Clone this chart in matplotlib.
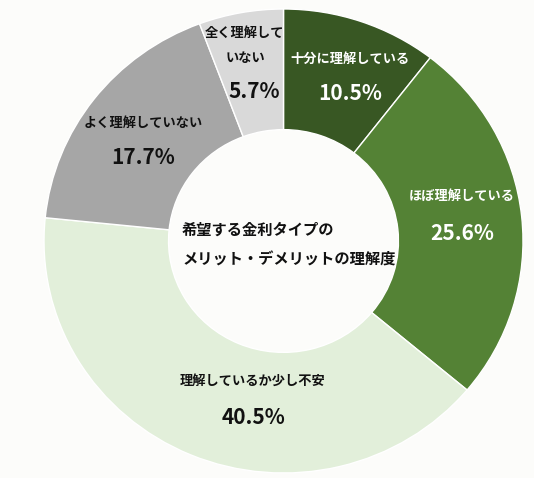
import matplotlib
matplotlib.use("Agg")
import matplotlib.pyplot as plt

plt.rcParams['font.family'] = ['Noto Sans CJK JP', 'DejaVu Sans']

categories = ["十分に理解している", "ほぼ理解している", "理解しているか少し不安",
              "よく理解していない", "全く理解して\nいない"]
values = [10.5, 25.6, 40.5, 17.7, 5.7]
center_title = ["希望する金利タイプの", "メリット・デメリットの理解度"]

colors = ["#385723", "#548235", "#E2EFDA", "#A6A6A6", "#D9D9D9"]
text_colors = ["white", "white", "#111111", "#111111", "#111111"]
# label positions in pixels (x, y of category line(s) center, y of percent)
label_pos = [(350, 59, 93), (462, 196, 233), (253, 381, 417),
             (143, 123, 157), (244, 46, 92)]

W, H = 534, 478
bg = "#FCFCFA"
fig = plt.figure(figsize=(W / 100, H / 100), dpi=100, facecolor=bg)

cx, cy, rx, ry = 283.5, 241, 239.5, 232
ax = fig.add_axes([(cx - rx) / W, 1 - (cy + ry) / H, 2 * rx / W, 2 * ry / H])
ax.pie(values, colors=colors, startangle=90, counterclock=False, radius=1,
       wedgeprops=dict(width=0.52, edgecolor="white", linewidth=1.0))
ax.set_aspect('auto')
ax.set_xlim(-1, 1)
ax.set_ylim(-1, 1)
ax.set_facecolor(bg)
ax.axis('off')

for cat, val, tc, (x, y, yp) in zip(categories, values, text_colors, label_pos):
    lines = cat.split("\n")
    if len(lines) == 1:
        fig.text(x / W, 1 - y / H, cat, ha='center', va='center',
                 fontsize=9.5, fontweight='bold', color=tc)
    else:
        fig.text(x / W, 1 - 33 / H, lines[0], ha='center', va='center',
                 fontsize=9.5, fontweight='bold', color=tc)
        fig.text((x + 1) / W, 1 - 58 / H, lines[1], ha='center', va='center',
                 fontsize=9.5, fontweight='bold', color=tc)
    px = x + (10 if len(lines) > 1 else 0)
    fig.text(px / W, 1 - yp / H, f"{val:.1f}%", ha='center', va='center',
             fontsize=15, fontweight='bold', color=tc)

fig.text(182 / W, 1 - 230 / H, center_title[0], ha='left', va='center',
         fontsize=11, fontweight='bold', color="#111111")
fig.text(182 / W, 1 - 260 / H, center_title[1], ha='left', va='center',
         fontsize=11, fontweight='bold', color="#111111")

fig.savefig("out.png", dpi=100, facecolor=bg)
